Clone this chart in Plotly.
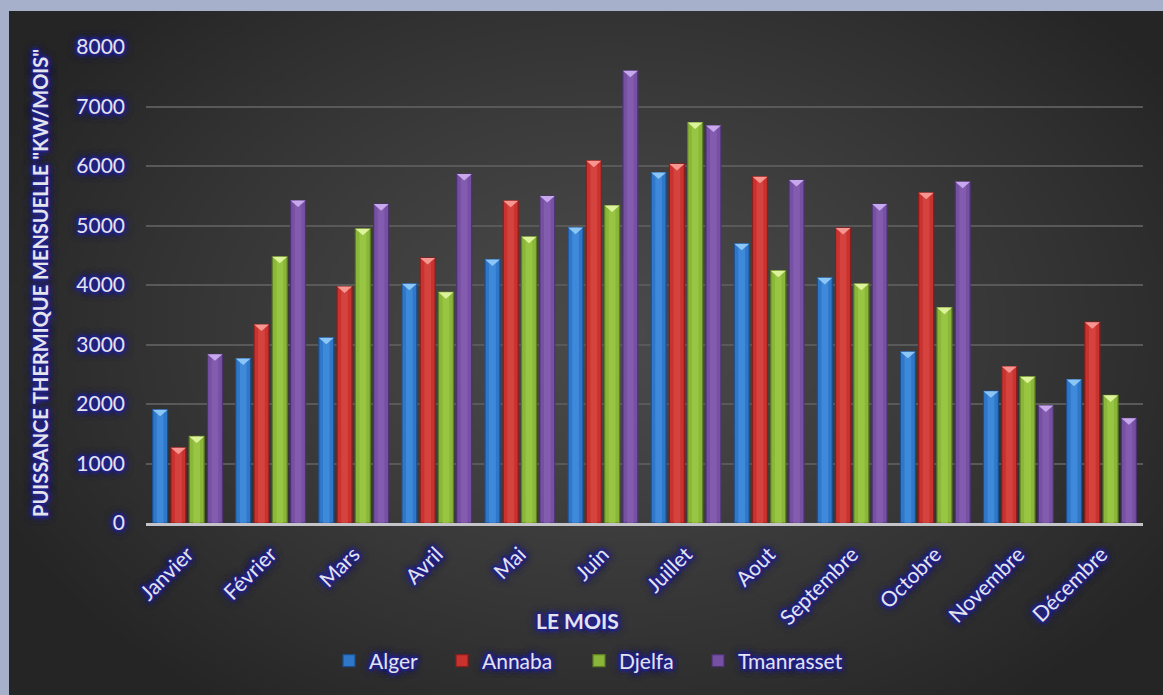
import base64
import struct
import zlib

import numpy as np
import plotly.graph_objects as go

# ---- data -----------------------------------------------------------------
months = ["Janvier", "Février", "Mars", "Avril", "Mai", "Juin", "Juillet",
          "Aout", "Septembre", "Octobre", "Novembre", "Décembre"]

alger = [1905, 2765, 3115, 4020, 4430, 4965, 5890, 4695, 4120, 2880, 2215, 2410]
annaba = [1265, 3335, 3975, 4455, 5415, 6090, 6035, 5820, 4960, 5550, 2630, 3375]
djelfa = [1455, 4475, 4945, 3880, 4810, 5335, 6730, 4240, 4020, 3620, 2460, 2145]
tmanrasset = [2835, 5420, 5360, 5865, 5495, 7600, 6680, 5765, 5360, 5735, 1975, 1760]

y_ticks = [0, 1000, 2000, 3000, 4000, 5000, 6000, 7000, 8000]

# ---- styling --------------------------------------------------------------
W, H = 1163, 695
L, R, T, B = 146, 20, 47, 172
PW, PH = W - L - R, H - T - B

TEXT = "#e4e4ec"
GLOW = ", ".join(["0 0 1px #24248a"] * 2 + ["0 0 3px #24248a"] * 4
                 + ["0 0 5px #28288d"] * 3 + ["0 0 8px #2d2d90"] * 2)
FONT = "Lato, 'Open Sans', sans-serif"

# name, values, body, edge, highlight, cap
series = [
    ("Alger", alger, "#2f78c9", "#1c4d8c", "#4b98e8", "#8cc6f6"),
    ("Annaba", annaba, "#c9322e", "#8a1e1c", "#e0524c", "#f59691"),
    ("Djelfa", djelfa, "#8ab739", "#5d7d22", "#a6d34b", "#ddf39b"),
    ("Tmanrasset", tmanrasset, "#7650a2", "#4c3270", "#8e66bc", "#c8a8ec"),
]
# horizontal pixel position of each legend swatch
legend_px = [349, 462, 599, 718]

SLOT = 0.22      # distance between bar centres inside a month group
BW = 0.18        # bar width (category units)
CAP = 110        # height of the bevel cap at the top of each bar (value units)


def png_data_uri(rgb):
    """Encode an (h, w, 3) uint8 array as a PNG data URI."""
    h, w, _ = rgb.shape
    raw = b"".join(b"\x00" + rgb[r].tobytes() for r in range(h))

    def chunk(tag, data):
        return (struct.pack(">I", len(data)) + tag + data
                + struct.pack(">I", zlib.crc32(tag + data) & 0xFFFFFFFF))

    png = (b"\x89PNG\r\n\x1a\n"
           + chunk(b"IHDR", struct.pack(">IIBBBBB", w, h, 8, 2, 0, 0, 0))
           + chunk(b"IDAT", zlib.compress(raw, 9))
           + chunk(b"IEND", b""))
    return "data:image/png;base64," + base64.b64encode(png).decode()


# dark radial backdrop of the chart area
X0, Y0 = 9, 11
step = 4
gw, gh = (W - X0) // step + 1, (H - Y0) // step + 1
yy, xx = np.mgrid[0:gh, 0:gw]
px = X0 + xx * step
py = Y0 + yy * step
d = np.sqrt(((px - 610) / 680.0) ** 2 + ((py - 330) / 470.0) ** 2)
d = np.clip(d, 0, 1)
v = 0x4a - (0x4a - 0x25) * d ** 1.25
img = np.repeat(v[:, :, None], 3, axis=2).astype(np.uint8)
backdrop = png_data_uri(img)

# ---- figure ---------------------------------------------------------------
fig = go.Figure()
n = len(months)
legend_layout = {}
for k, (name, vals, body, edge, hi, cap) in enumerate(series):
    lg = "legend" if k == 0 else f"legend{k + 1}"
    xs = [i + (k - 1.5) * SLOT for i in range(n)]
    fig.add_trace(go.Bar(
        x=xs, y=vals, width=BW, name=name, legend=lg,
        marker=dict(color=body, line=dict(color=edge, width=1.2)),
    ))
    # lighter central strip giving the rounded bevel look
    fig.add_trace(go.Bar(
        x=xs, y=vals, width=BW * 0.45, marker=dict(color=hi, line=dict(width=0)),
        opacity=0.55, showlegend=False, hoverinfo="skip",
    ))
    for x, val in zip(xs, vals):
        fig.add_shape(
            type="path", xref="x", yref="y",
            path=f"M {x - BW / 2},{val} L {x + BW / 2},{val} L {x},{val - CAP} Z",
            fillcolor=cap, line=dict(width=0),
        )
    legend_layout[lg] = dict(
        orientation="h", x=(legend_px[k] - 20 - L) / PW, xanchor="left",
        y=(H - B - 661) / PH, yanchor="middle",
        font=dict(family=FONT, size=21, color=TEXT, shadow=GLOW),
        bgcolor="rgba(0,0,0,0)", itemwidth=30,
    )

fig.add_layout_image(
    source=backdrop, xref="paper", yref="paper",
    x=(X0 - L) / PW, y=(H - B - Y0) / PH,
    sizex=(W - X0) / PW, sizey=(H - Y0) / PH,
    xanchor="left", yanchor="top", sizing="stretch", layer="below",
)

fig.add_annotation(
    text="LE MOIS", xref="paper", yref="paper",
    x=(577 - L) / PW, y=(H - B - 620) / PH, showarrow=False,
    xanchor="center", yanchor="middle",
    font=dict(family=FONT, size=21, color=TEXT, weight="bold", shadow=GLOW),
)
fig.add_annotation(
    text='PUISSANCE THERMIQUE MENSUELLE "KW/MOIS"', xref="paper", yref="paper",
    x=(40 - L) / PW, y=(H - B - 283) / PH, showarrow=False, textangle=-90,
    xanchor="center", yanchor="middle",
    font=dict(family=FONT, size=20, color=TEXT, weight="bold", shadow=GLOW),
)

fig.update_layout(
    width=W, height=H, autosize=False,
    margin=dict(l=L, r=R, t=T, b=B),
    paper_bgcolor="#a6b0ca",
    plot_bgcolor="rgba(0,0,0,0)",
    barmode="overlay",
    font=dict(family=FONT, size=21, color=TEXT, shadow=GLOW),
    showlegend=True,
    xaxis=dict(
        range=[-0.5, n - 0.5], tickmode="array",
        tickvals=list(range(n)), ticktext=months, tickangle=-45,
        showgrid=False, zeroline=False,
        showline=True, linecolor="#c4c4c8", linewidth=2.5,
        ticklabelstandoff=8,
        tickfont=dict(family=FONT, size=21, color=TEXT, shadow=GLOW),
    ),
    yaxis=dict(
        range=[0, 8000], tickmode="array", tickvals=y_ticks,
        ticktext=[str(t) for t in y_ticks],
        showgrid=True, gridcolor="#595959", gridwidth=1.5,
        zeroline=False, showline=False, ticklabelstandoff=20,
        tickfont=dict(family=FONT, size=21, color=TEXT, shadow=GLOW),
    ),
    **legend_layout,
)

fig.write_html("out.html")
